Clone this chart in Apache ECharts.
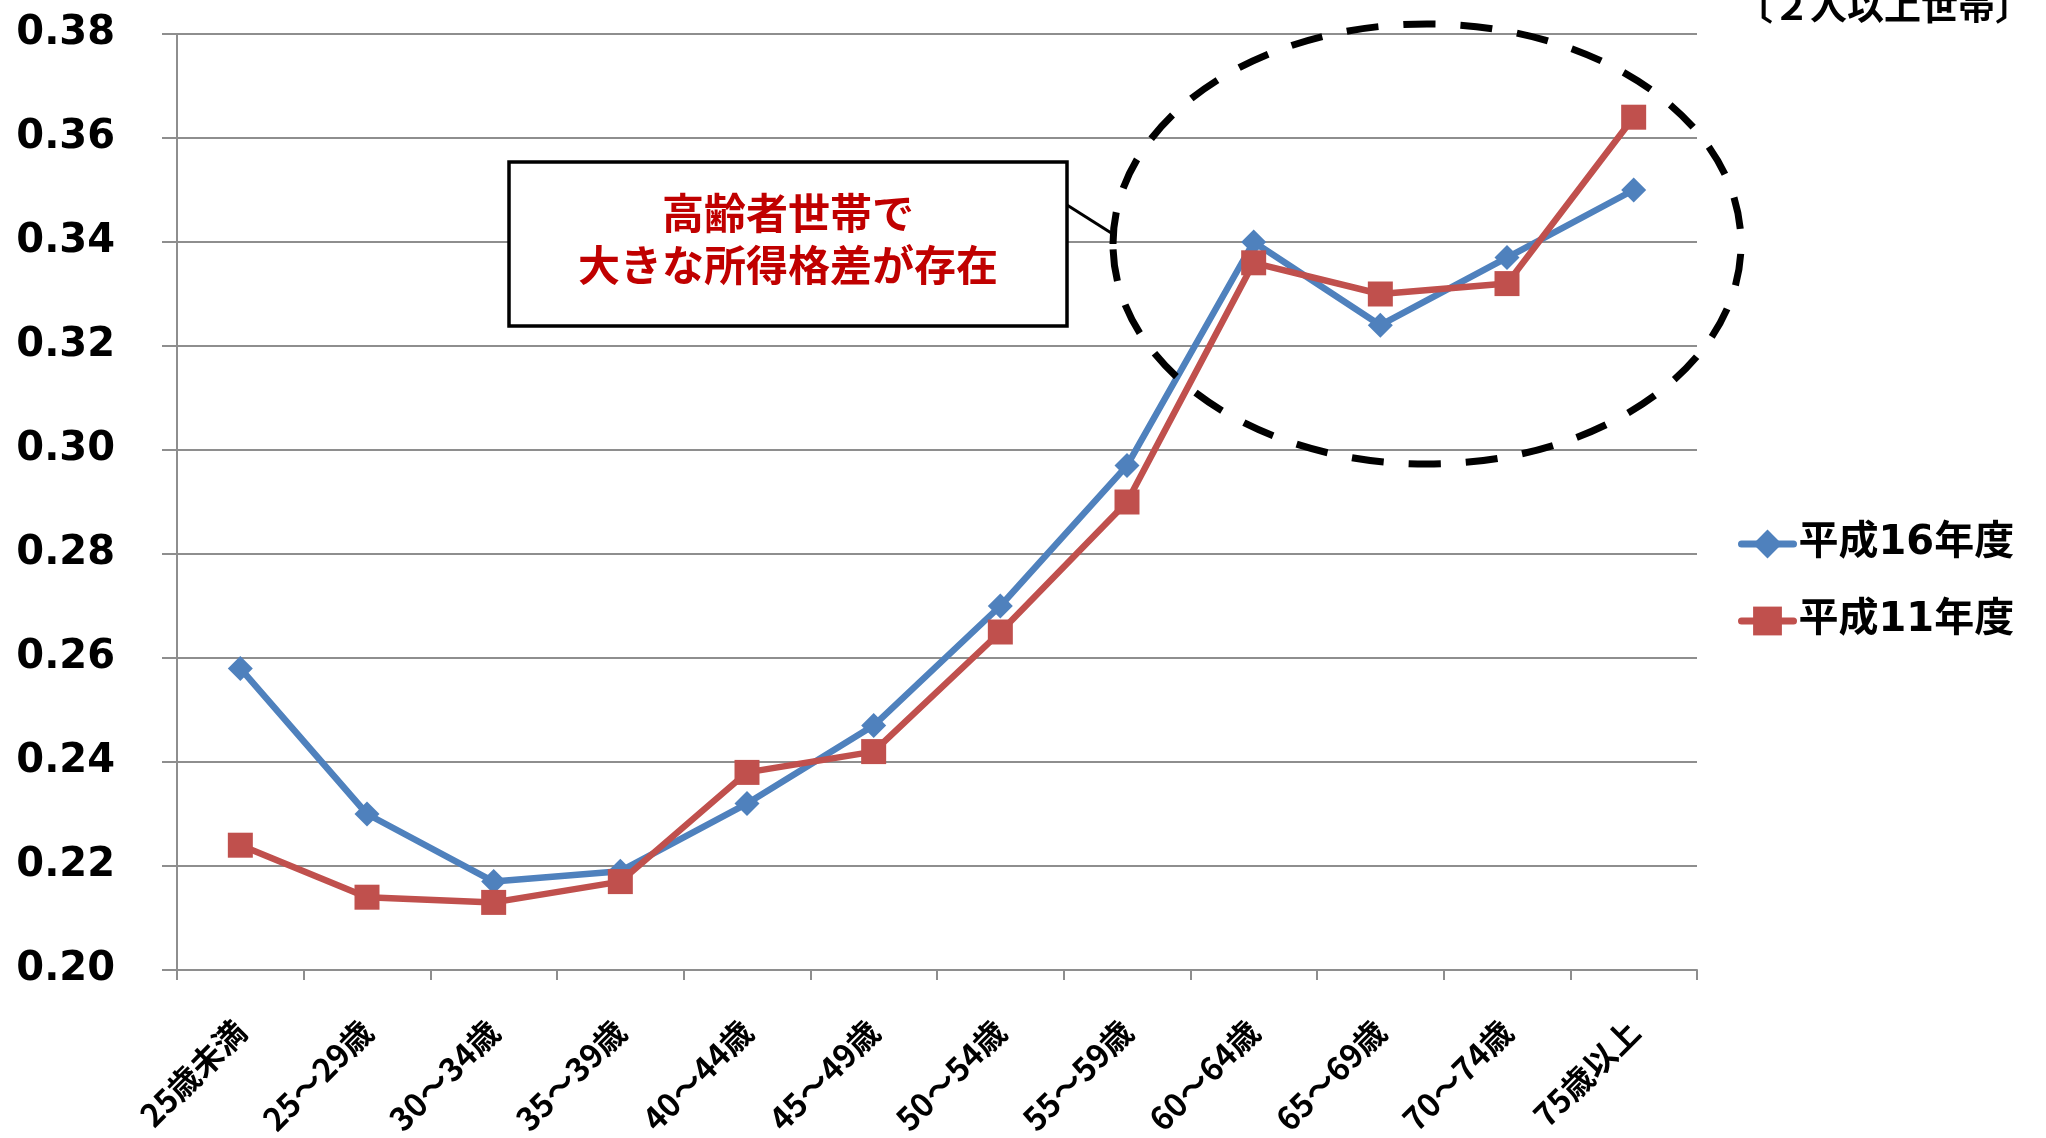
<!DOCTYPE html>
<html>
<head>
<meta charset="utf-8">
<script src="https://cdn.jsdelivr.net/npm/echarts@6/dist/echarts.min.js"></script>
<style>
html,body{margin:0;padding:0;background:#fff;}
#chart{width:2046px;height:1138px;}
</style>
</head>
<body>
<div id="chart"></div>
<script>
const categories = ['25歳未満','25〜29歳','30〜34歳','35〜39歳','40〜44歳','45〜49歳','50〜54歳','55〜59歳','60〜64歳','65〜69歳','70〜74歳','75歳以上'];
const seriesNames = ['平成16年度','平成11年度'];
const valuesH16 = [0.258,0.230,0.217,0.219,0.232,0.247,0.270,0.297,0.340,0.324,0.337,0.350];
const valuesH11 = [0.224,0.214,0.213,0.217,0.238,0.242,0.265,0.290,0.336,0.330,0.332,0.364];
const yMin = 0.20, yMax = 0.38, yStep = 0.02;
const subtitle = '〔２人以上世帯〕';
const noteLines = ['高齢者世帯で','大きな所得格差が存在'];

const CJK = '"Noto Sans CJK JP", "Noto Sans CJK SC", sans-serif';
const gridColor = '#8e8e8e';

const chart = echarts.init(document.getElementById('chart'), null, {renderer:'canvas'});
chart.setOption({
  animation:false,
  backgroundColor:'#ffffff',
  grid:{left:177,right:349,top:34,bottom:168,containLabel:false,outerBoundsMode:'none'},
  xAxis:{
    type:'category',
    data:categories,
    boundaryGap:true,
    axisLine:{show:true,lineStyle:{color:gridColor,width:2}},
    axisTick:{show:true,alignWithLabel:false,length:10,lineStyle:{color:gridColor,width:2}},
    axisLabel:{interval:0,rotate:45,margin:56,color:'#000',fontSize:32,fontWeight:'bold',fontFamily:CJK},
    splitLine:{show:false}
  },
  yAxis:{
    type:'value',
    min:yMin,max:yMax,interval:yStep,
    axisLine:{show:true,lineStyle:{color:gridColor,width:2}},
    axisTick:{show:true,inside:false,length:15,lineStyle:{color:gridColor,width:2}},
    axisLabel:{margin:62,color:'#000',fontSize:40,fontWeight:'bold',fontFamily:'"DejaVu Sans", sans-serif',
      formatter:v=>v.toFixed(2)},
    splitLine:{show:true,lineStyle:{color:gridColor,width:2}}
  },
  legend:{
    orient:'vertical',
    left:1733,top:519,
    itemWidth:52,itemHeight:36,itemGap:37,
    lineStyle:{width:7,cap:'round'},
    textStyle:{fontSize:40,fontWeight:'bold',color:'#000',fontFamily:'"DejaVu Sans", '+CJK},
    data:seriesNames
  },
  series:[
    {name:seriesNames[0],type:'line',data:valuesH16,symbol:'diamond',symbolSize:25,
     lineStyle:{color:'#4F81BD',width:6.5},itemStyle:{color:'#4F81BD'},z:3},
    {name:seriesNames[1],type:'line',data:valuesH11,symbol:'rect',symbolSize:25,
     lineStyle:{color:'#C0504D',width:6.5},itemStyle:{color:'#C0504D'},z:4}
  ],
  graphic:[
    {type:'text',right:14,top:-13,z:100,
     style:{text:subtitle,fill:'#000',font:'bold 37px '+CJK}},
    {type:'line',z:100,shape:{x1:1067,y1:205,x2:1116,y2:236},style:{stroke:'#000',lineWidth:3}},
    {type:'rect',z:100,shape:{x:509,y:162,width:558,height:164},style:{fill:'#fff',stroke:'#000',lineWidth:3.5}},
    {type:'text',z:101,x:788,y:239,
     style:{text:noteLines.join('\n'),fill:'#C00000',font:'bold 42px '+CJK,align:'center',verticalAlign:'middle',lineHeight:52}},
    {type:'ellipse',z:100,shape:{cx:1427,cy:244,rx:314,ry:220},
     style:{fill:null,stroke:'#000',lineWidth:7,lineDash:[32,25]}}
  ]
});
</script>
</body>
</html>
